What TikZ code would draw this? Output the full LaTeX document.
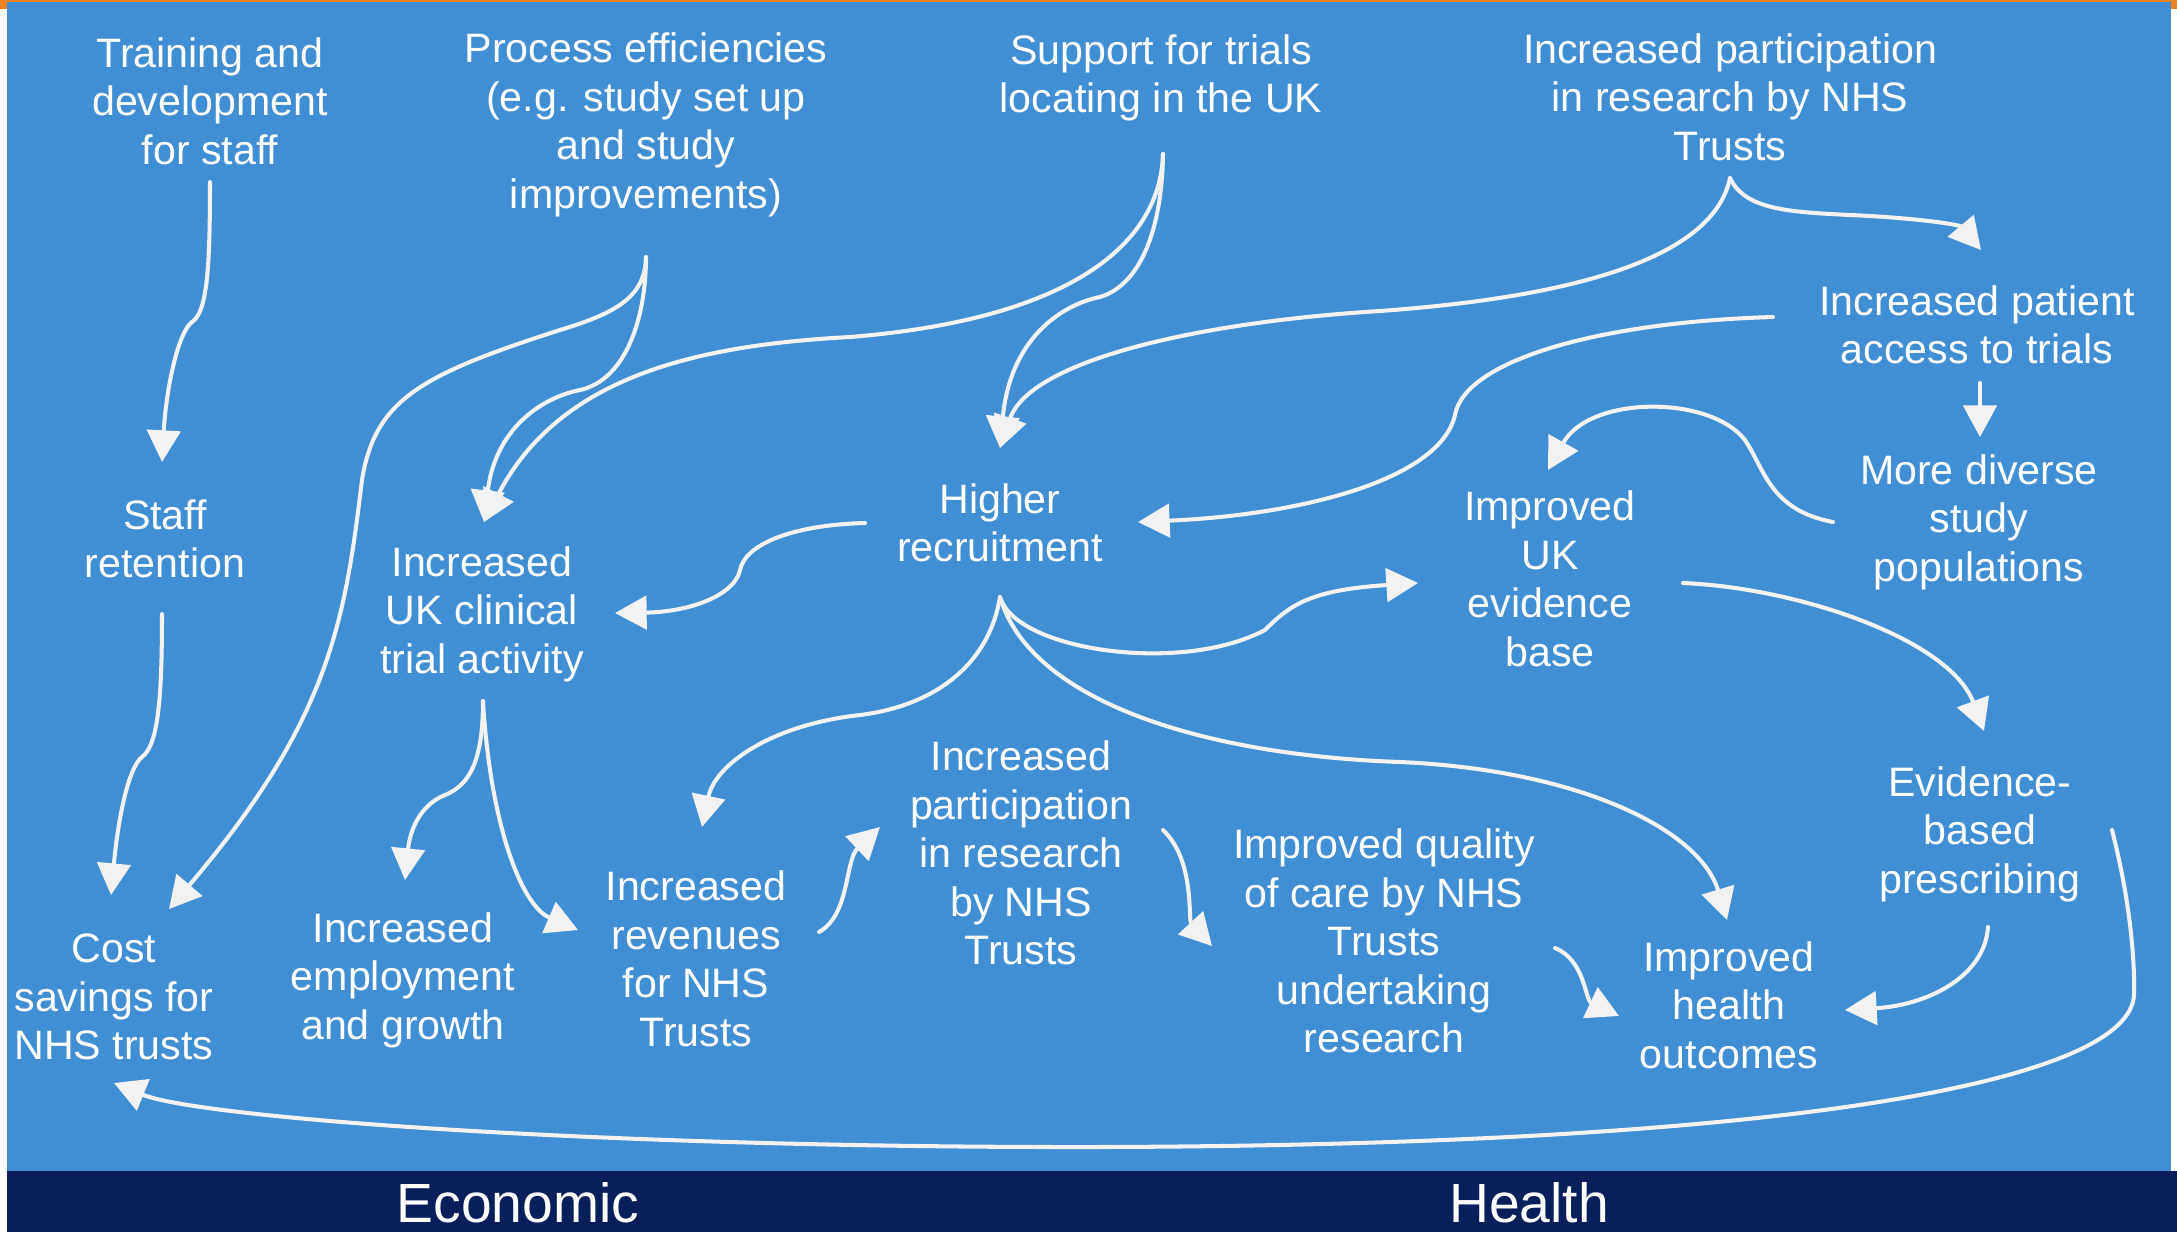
\documentclass[tikz,border=0pt]{standalone}
\usepackage{fontspec}
\setmainfont{Liberation Sans}
\usetikzlibrary{calc,arrows.meta}
\definecolor{panelblue}{RGB}{64,143,212}
\definecolor{barnavy}{RGB}{9,31,92}
\definecolor{edgeorange}{RGB}{245,130,32}
\definecolor{linewhite}{RGB}{242,242,242}
\tikzset{
    lab/.style={
        text=white, align=center, inner sep=0pt,
        font=\fontsize{11.7}{13.8}\selectfont
    },
    barlab/.style={
        text=white, anchor=base, inner sep=0pt,
        font=\fontsize{15.7}{18}\selectfont
    },
    flow/.style={
        draw=linewhite, line width=1.15pt,
        -{Triangle[length=9pt,width=9.5pt]}
    }
}

\begin{document}
\begin{tikzpicture}[x=0.01cm,y=-0.01cm,line cap=round,line join=round]

% --- page, blue panel and the bottom bar ---
    \useasboundingbox (0,0) rectangle (2177,1232);
    \fill[white] (0,0) rectangle (2177,1232);
    \fill[panelblue] (7,2) rectangle (2171,1171);
    \fill[barnavy] (7,1171) rectangle (2177,1232);
    \fill[edgeorange] (0,0) rectangle (2177,2);
    \fill[edgeorange] (0,0) rectangle (7,9);
    \fill[edgeorange] (2171,0) rectangle (2177,9);

% --- top row ---
    \node[lab] (train)    at (210,101)  {Training and\\development\\for staff};
    \node[lab] (process)  at (646,125)  {Process efficiencies\\(e.g. study set up\\and study\\improvements)};
    \node[lab] (support)  at (1161,78)  {Support for trials\\locating in the UK};
    \node[lab] (parttop)  at (1730,97)  {Increased participation\\in research by NHS\\Trusts};

% --- middle ---
    \node[lab] (access)   at (1977,325) {Increased patient\\access to trials};
    \node[lab] (diverse)  at (1979,522) {More diverse\\study\\populations};
    \node[lab] (staff)    at (165,539)  {Staff\\retention};
    \node[lab] (recruit)  at (1000,523) {Higher\\recruitment};
    \node[lab] (evidence) at (1550,579) {Improved\\UK\\evidence\\base};
    \node[lab] (clinical) at (482,614)  {Increased\\UK clinical\\trial activity};

% --- bottom row ---
    \node[lab] (partmid)   at (1021,853) {Increased\\participation\\in research\\by NHS\\Trusts};
    \node[lab] (prescribe) at (1980,834) {Evidence-\\based\\prescribing};
    \node[lab] (quality)   at (1384,941) {Improved quality\\of care by NHS\\Trusts\\undertaking\\research};
    \node[lab] (cost)      at (114,997)  {Cost\\savings for\\NHS trusts};
    \node[lab] (employ)    at (403,980)  {Increased\\employment\\and growth};
    \node[lab] (revenue)   at (696,959)  {Increased\\revenues\\for NHS\\Trusts};
    \node[lab] (outcomes)  at (1729,1005) {Improved\\health\\outcomes};

% bar labels
    \node[barlab] (econbar)   at (518,1222)  {Economic};
    \node[barlab] (healthbar) at (1529,1222) {Health};

% --- connectors, left side ---
    \draw[flow] ($ (train) + (0,81) $) .. controls (210,270) and (207,312) .. (192,322)
        .. controls (178,332) and (166,390) .. ($ (staff) + (-3,-77) $);
    \draw[flow] ($ (staff) + (-3,75) $) .. controls (162,700) and (158,745) .. (142,757)
        .. controls (128,768) and (118,820) .. ($ (cost) + (-3,-102) $);
    \draw[flow] ($ (process) + (0,132) $) .. controls (645,295) and (620,312) .. (560,330)
        .. controls (420,375) and (375,400) .. (362,480)
        .. controls (345,620) and (330,720) .. ($ (cost) + (55,-88) $);
    \draw[flow] ($ (process) + (0,132) $) .. controls (646,320) and (625,380) .. (580,390)
        .. controls (540,398) and (495,430) .. ($ (clinical) + (2,-92) $);
    \draw[flow] ($ (support) + (2,76) $) .. controls (1160,250) and (1060,320) .. (850,337)
        .. controls (700,345) and (560,375) .. ($ (clinical) + (2,-92) $);
    \draw[flow] ($ (support) + (2,76) $) .. controls (1162,230) and (1140,285) .. (1100,297)
        .. controls (1060,305) and (1010,340) .. ($ (recruit) + (0,-75) $);

% --- connectors, right side ---
    \draw[flow] ($ (parttop) + (0,81) $) .. controls (1715,250) and (1600,295) .. (1380,311)
        .. controls (1200,322) and (1030,360) .. ($ (recruit) + (0,-75) $);
    \draw[flow] ($ (parttop) + (0,81) $) .. controls (1745,210) and (1790,212) .. (1850,215)
        .. controls (1920,218) and (1960,225) .. ($ (access) + (4,-75) $);
    \draw[flow] ($ (access) + (-204,-8) $) .. controls (1600,322) and (1465,360) .. (1455,415)
        .. controls (1440,480) and (1300,515) .. ($ (recruit) + (138,-1) $);
    \draw[flow] ($ (access) + (3,58) $) -- ($ (diverse) + (1,-85) $);
    \draw[flow] ($ (diverse) + (-146,0) $) .. controls (1770,510) and (1765,470) .. (1745,440)
        .. controls (1710,395) and (1590,395) .. ($ (evidence) + (-2,-109) $);
    \draw[flow] ($ (evidence) + (133,4) $) .. controls (1800,588) and (1950,640) .. ($ (prescribe) + (4,-103) $);

% --- out of higher recruitment ---
    \draw[flow] ($ (recruit) + (-135,0) $) .. controls (790,525) and (745,545) .. (740,570)
        .. controls (735,595) and (690,612) .. ($ (clinical) + (133,-1) $);
    \draw[flow] ($ (recruit) + (0,74) $) .. controls (990,660) and (940,705) .. (860,715)
        .. controls (770,725) and (715,765) .. ($ (revenue) + (6,-132) $);
    \draw[flow] ($ (recruit) + (0,74) $) .. controls (1015,650) and (1180,675) .. (1265,630)
        .. controls (1290,605) and (1310,590) .. ($ (evidence) + (-132,4) $);
    \draw[flow] ($ (recruit) + (0,74) $) .. controls (1030,700) and (1200,755) .. (1400,762)
        .. controls (1580,770) and (1700,830) .. ($ (outcomes) + (-2,-85) $);

% --- bottom chain ---
    \draw[flow] ($ (clinical) + (1,87) $) .. controls (483,760) and (470,785) .. (445,795)
        .. controls (420,805) and (410,830) .. ($ (employ) + (2,-100) $);
    \draw[flow] ($ (clinical) + (1,87) $) .. controls (490,820) and (520,905) .. ($ (revenue) + (-118,-29) $);
    \draw[flow] ($ (revenue) + (123,-27) $) .. controls (850,915) and (845,860) .. ($ (partmid) + (-141,-26) $);
    \draw[flow] ($ (partmid) + (142,-23) $) .. controls (1195,860) and (1188,920) .. ($ (quality) + (-172,5) $);
    \draw[flow] ($ (quality) + (171,7) $) .. controls (1585,960) and (1585,1000) .. ($ (outcomes) + (-110,11) $);
    \draw[flow] ($ (prescribe) + (8,93) $) .. controls (1985,975) and (1930,1005) .. ($ (outcomes) + (116,5) $);

% long loop back to cost savings
    \draw[flow] ($ (prescribe) + (132,-4) $) .. controls (2130,900) and (2135,960) .. (2134,995)
        .. controls (2130,1080) and (1800,1145) .. (1100,1147)
        .. controls (600,1148) and (200,1118) .. ($ (cost) + (0,86) $);

  \end{tikzpicture}
\end{document}
